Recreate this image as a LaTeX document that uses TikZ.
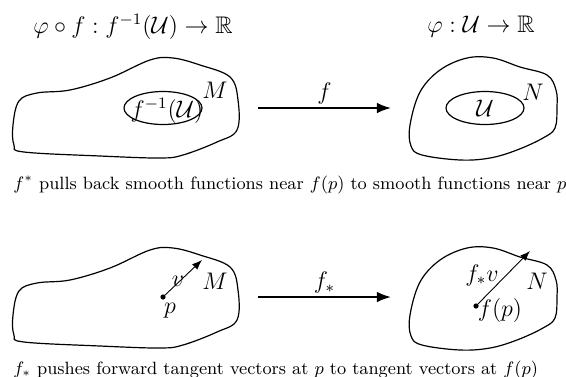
\documentclass[tikz,border=0pt]{standalone}
\usepackage{amsmath,amssymb}
\usepackage{tikz}
\usetikzlibrary{arrows.meta,calc,positioning,shapes.geometric}

\begin{document}
\begin{tikzpicture}[x=0.5pt,y=-0.5pt,>=Latex,font=\large]
\tikzstyle{blob}=[line width=0.6pt,smooth cycle,tension=0.6]
\tikzstyle{nbhd}=[draw,ellipse,line width=0.6pt,minimum width=39pt,minimum height=16.5pt,inner sep=0pt]
\tikzstyle{map}=[->,line width=0.9pt]
\tikzstyle{vec}=[-{Latex[length=5pt]},line width=0.45pt]
\tikzstyle{captext}=[anchor=west,font=\fontsize{8.9}{10}\selectfont,inner sep=0pt]
\useasboundingbox (0,0) rectangle (566,376);
% pullback row
\node (titleL) at (133,27) {$\varphi\circ f : f^{-1}(\mathcal{U})\to\mathbb{R}$};
\node (titleR) at (481,27) {$\varphi : \mathcal{U}\to\mathbb{R}$};
\draw[blob] plot coordinates {(13,125) (19,101) (37,93) (70,90) (110,78) (150,60) (173,58) (200,65) (230,77) (238,100) (237,130) (217,142) (183,155) (160,158) (100,156) (24,152) (14,145)};
\draw[blob] plot coordinates {(410,125) (420,92) (440,70) (467,58) (493,58) (520,67) (547,75) (556,90) (557,107) (555,128) (543,138) (517,150) (490,158) (460,160) (422,155) (411,146)};
\node[nbhd] (fU) at (163,108) {};
\node at (167,111) {$f^{-1}(\mathcal{U})$};
\node[nbhd] (U) at (485,108) {$\mathcal{U}$};
\node (M) at (215,90) {$M$};
\node (N) at (533,92) {$N$};
\coordinate (ftail) at (258,108);
\coordinate (fhead) at (391,108);
\draw[map] (ftail) -- node[above,inner sep=1.5pt] {$f$} (fhead);
\node[captext] (pullcap) at (13,185) {$f^*$ pulls back smooth functions near $f(p)$ to smooth functions near $p$};
% pushforward row
\begin{scope}[yshift=-95pt]
\draw[blob] plot coordinates {(13,125) (19,101) (37,93) (70,90) (110,78) (150,60) (173,58) (200,65) (230,77) (238,100) (237,130) (217,142) (183,155) (160,158) (100,156) (24,152) (14,145)};
\draw[blob] plot coordinates {(410,125) (420,92) (440,70) (467,58) (493,58) (520,67) (547,75) (556,90) (557,107) (555,128) (543,138) (517,150) (490,158) (460,160) (422,155) (411,146)};
\end{scope}
\fill (163,297) circle (1.3pt) node (p) {};
\coordinate (vtip) at (202,260);
\draw[vec] (p.center) -- (vtip);
\node at (178,281) {$v$};
\node at (170,311) {$p$};
\node (M2) at (215,281) {$M$};
\fill (476,306) circle (1.3pt) node (fp) {};
\coordinate (fvtip) at (530,251);
\draw[vec] (fp.center) -- (fvtip);
\node at (482,275) {$f_*v$};
\node at (500,310) {$f(p)$};
\node (N2) at (537,281) {$N$};
\coordinate (gtail) at (258,297);
\coordinate (ghead) at (391,297);
\draw[map] (gtail) -- node[above,inner sep=1.5pt] {$f_*$} (ghead);
\node[captext] (pushcap) at (13,370) {$f_*$ pushes forward tangent vectors at $p$ to tangent vectors at $f(p)$};
\end{tikzpicture}
\end{document}
